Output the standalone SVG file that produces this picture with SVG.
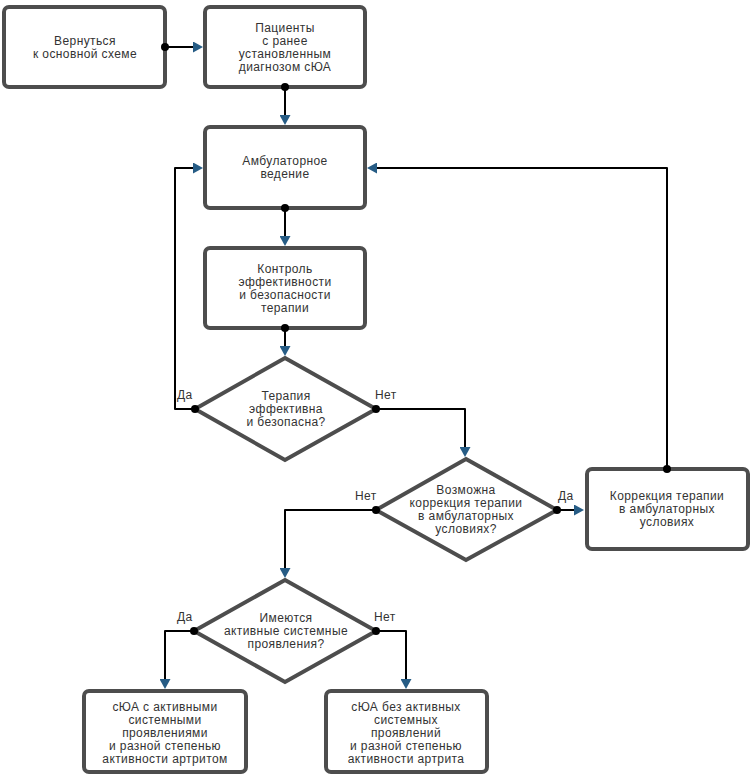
<svg xmlns="http://www.w3.org/2000/svg" width="754" height="777" viewBox="0 0 754 777">
<defs>
<style>
.node{fill:#fff;stroke:#4d4d4d;stroke-width:4}
.t{font-family:"Liberation Sans",Arial,sans-serif;font-size:12px;letter-spacing:0.4px;fill:#333;text-anchor:middle}
.lbl{font-family:"Liberation Sans",Arial,sans-serif;font-size:12px;letter-spacing:0.4px;fill:#333}
.c{fill:none;stroke:#000;stroke-width:2;stroke-linejoin:round;marker-end:url(#arr)}
.dot{fill:#000}
</style>
<marker id="arr" markerUnits="userSpaceOnUse" markerWidth="10" markerHeight="11" refX="8" refY="5.5" orient="auto" viewBox="0 0 10 11">
<path d="M0,0 L10,5.5 L0,11 z" fill="#265c85"/>
</marker>
</defs>
<rect width="754" height="777" fill="#fff"/>
<g id="back">
<rect class="node" x="4" y="7" width="161" height="80" rx="5"/>
<text class="t" x="85" y="45">Вернуться</text>
<text class="t" x="85" y="58">к основной схеме</text>
</g>
<g id="patients">
<rect class="node" x="205" y="7" width="160" height="80" rx="5"/>
<text class="t" x="285" y="32">Пациенты</text>
<text class="t" x="285" y="45">с ранее</text>
<text class="t" x="285" y="58">установленным</text>
<text class="t" x="285" y="71">диагнозом сЮА</text>
</g>
<g id="ambulatory">
<rect class="node" x="205" y="127" width="160" height="81" rx="5"/>
<text class="t" x="285" y="165">Амбулаторное</text>
<text class="t" x="285" y="178">ведение</text>
</g>
<g id="control">
<rect class="node" x="205" y="248" width="160" height="80" rx="5"/>
<text class="t" x="285" y="273">Контроль</text>
<text class="t" x="285" y="286">эффективности</text>
<text class="t" x="285" y="299">и безопасности</text>
<text class="t" x="285" y="312">терапии</text>
</g>
<g id="effective">
<polygon class="node" points="285,358 376,409 285,460 195,409"/>
<text class="t" x="286" y="400">Терапия</text>
<text class="t" x="286" y="413">эффективна</text>
<text class="t" x="286" y="426">и безопасна?</text>
</g>
<g id="correctable">
<polygon class="node" points="466,459 557,510 466,560 376,510"/>
<text class="t" x="466" y="494">Возможна</text>
<text class="t" x="466" y="507">коррекция терапии</text>
<text class="t" x="466" y="520">в амбулаторных</text>
<text class="t" x="466" y="533">условиях?</text>
</g>
<g id="correction">
<rect class="node" x="587" y="469" width="161" height="80" rx="5"/>
<text class="t" x="667" y="500">Коррекция терапии</text>
<text class="t" x="667" y="513">в амбулаторных</text>
<text class="t" x="667" y="526">условиях</text>
</g>
<g id="systemic">
<polygon class="node" points="285,580 376,631 285,682 194,631"/>
<text class="t" x="286" y="622">Имеются</text>
<text class="t" x="286" y="635">активные системные</text>
<text class="t" x="286" y="648">проявления?</text>
</g>
<g id="with-systemic">
<rect class="node" x="84" y="691" width="162" height="81" rx="5"/>
<text class="t" x="165" y="711">сЮА с активными</text>
<text class="t" x="165" y="724">системными</text>
<text class="t" x="165" y="737">проявлениями</text>
<text class="t" x="165" y="750">и разной степенью</text>
<text class="t" x="165" y="763">активности артритом</text>
</g>
<g id="without-systemic">
<rect class="node" x="326" y="691" width="161" height="81" rx="5"/>
<text class="t" x="406" y="711">сЮА без активных</text>
<text class="t" x="406" y="724">системных</text>
<text class="t" x="406" y="737">проявлений</text>
<text class="t" x="406" y="750">и разной степенью</text>
<text class="t" x="406" y="763">активности артрита</text>
</g>
<g id="connectors">
<path class="c" d="M165,47 H201"/>
<path class="c" d="M285,87 V123"/>
<path class="c" d="M285,208 V244"/>
<path class="c" d="M285,328 V354"/>
<path class="c" d="M195,409 H175 V168 H201"/>
<path class="c" d="M376,409 H465 V455"/>
<path class="c" d="M557,510 H582"/>
<path class="c" d="M376,510 H285 V576"/>
<path class="c" d="M667,469 V168 H369"/>
<path class="c" d="M194,631 H165 V687"/>
<path class="c" d="M376,631 H406 V687"/>
<circle class="dot" cx="165" cy="47" r="4"/>
<circle class="dot" cx="285" cy="87" r="4"/>
<circle class="dot" cx="285" cy="208" r="4"/>
<circle class="dot" cx="285" cy="328" r="4"/>
<circle class="dot" cx="195" cy="409" r="4"/>
<circle class="dot" cx="376" cy="409" r="4"/>
<circle class="dot" cx="557" cy="510" r="4"/>
<circle class="dot" cx="376" cy="510" r="4"/>
<circle class="dot" cx="667" cy="469" r="4"/>
<circle class="dot" cx="194" cy="631" r="4"/>
<circle class="dot" cx="376" cy="631" r="4"/>
<text class="lbl" x="177" y="399">Да</text>
<text class="lbl" x="375" y="399">Нет</text>
<text class="lbl" x="355" y="500">Нет</text>
<text class="lbl" x="558" y="500">Да</text>
<text class="lbl" x="177" y="621">Да</text>
<text class="lbl" x="374" y="621">Нет</text>
</g>
</svg>
